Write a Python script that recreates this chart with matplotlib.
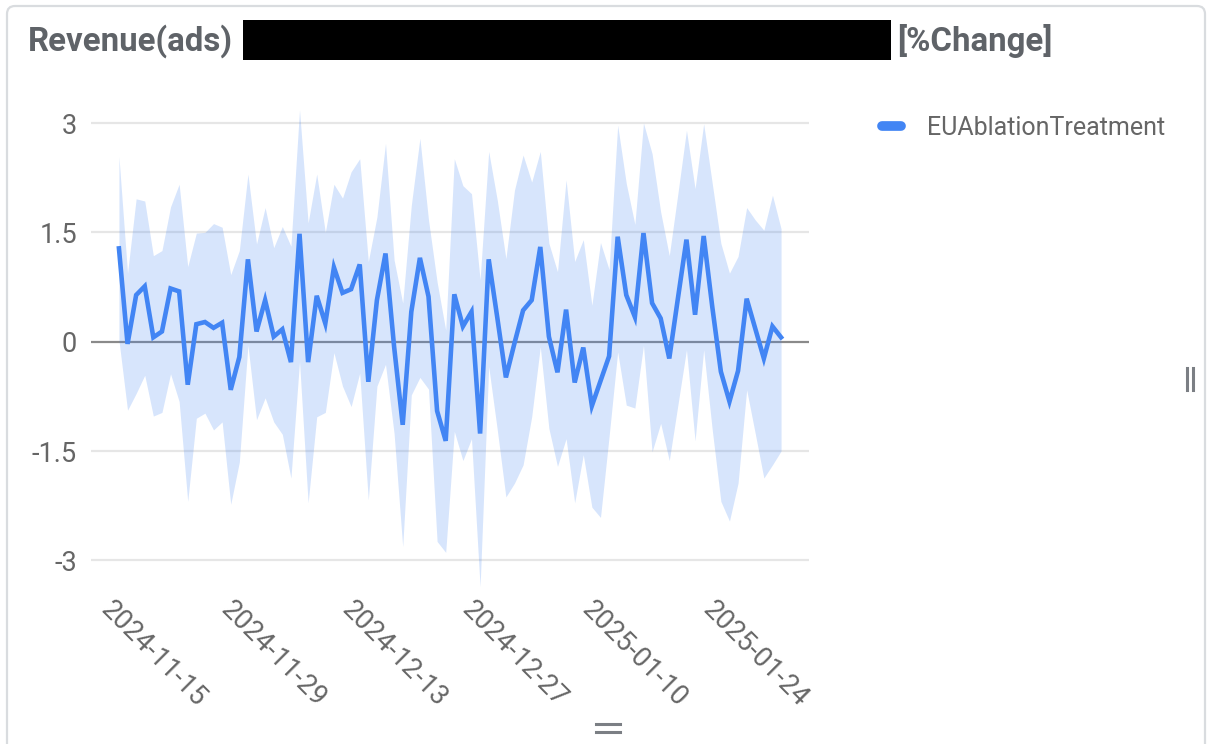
import matplotlib
matplotlib.use("Agg")
import matplotlib.pyplot as plt
import matplotlib.transforms as mtransforms
from matplotlib.lines import Line2D
from matplotlib.patches import FancyBboxPatch, Rectangle
import pandas as pd

# ---- data -------------------------------------------------------------
series_name = "EUAblationTreatment"
start_date = "2024-11-15"

mean_change = [
    1.28, -0.03, 0.64, 0.76, 0.06, 0.14, 0.73, 0.69, -0.59, 0.24,
    0.27, 0.19, 0.26, -0.66, -0.21, 1.13, 0.14, 0.57, 0.07, 0.17,
    -0.28, 1.48, -0.28, 0.63, 0.25, 1.02, 0.67, 0.72, 1.06, -0.55,
    0.57, 1.21, -0.07, -1.14, 0.41, 1.15, 0.62, -0.95, -1.36, 0.65,
    0.21, 0.41, -1.26, 1.13, 0.33, -0.49, -0.02, 0.43, 0.57, 1.30,
    0.07, -0.42, 0.44, -0.56, -0.08, -0.88, -0.54, -0.20, 1.44, 0.64,
    0.34, 1.49, 0.53, 0.32, -0.23, 0.59, 1.40, 0.37, 1.45, 0.48,
    -0.41, -0.82, -0.40, 0.59, 0.18, -0.23, 0.21, 0.06,
]
upper_bound = [
    2.54, 0.94, 1.96, 1.93, 1.18, 1.25, 1.85, 2.16, 1.03, 1.49,
    1.50, 1.62, 1.57, 0.92, 1.25, 2.30, 1.34, 1.84, 1.29, 1.58,
    1.31, 3.18, 1.63, 2.30, 1.50, 2.16, 1.97, 2.33, 2.51, 1.10,
    1.71, 2.72, 1.12, 0.53, 1.87, 2.79, 1.67, 0.82, 0.16, 2.51,
    2.14, 2.03, 0.85, 2.61, 1.94, 1.14, 2.08, 2.56, 2.19, 2.61,
    1.35, 0.96, 2.22, 1.10, 1.40, 0.50, 1.36, 0.99, 2.97, 2.17,
    1.61, 3.00, 2.58, 1.78, 1.18, 2.03, 2.90, 2.10, 2.99, 2.17,
    1.35, 0.94, 1.17, 1.84, 1.67, 1.53, 2.01, 1.55,
]
lower_bound = [
    0.02, -0.94, -0.71, -0.46, -1.02, -0.97, -0.44, -0.82, -2.19, -1.05,
    -0.98, -1.21, -1.10, -2.23, -1.65, -0.05, -1.07, -0.77, -1.10, -1.27,
    -1.87, -0.27, -2.21, -1.03, -0.97, -0.15, -0.61, -0.89, -0.43, -2.17,
    -0.61, -0.31, -1.26, -2.81, -0.73, -0.49, -0.65, -2.74, -2.89, -1.23,
    -1.63, -1.33, -3.36, -0.34, -1.21, -2.13, -1.94, -1.69, -1.03, -0.07,
    -1.19, -1.71, -1.33, -2.21, -1.55, -2.27, -2.41, -1.30, -0.14, -0.87,
    -0.91, -0.05, -1.51, -1.12, -1.63, -0.87, -0.11, -1.36, -0.11, -1.21,
    -2.19, -2.46, -1.94, -0.66, -1.26, -1.87, -1.69, -1.50,
]
dates = pd.date_range(start_date, periods=len(mean_change), freq="D")

x_tick_labels = ["2024-11-15", "2024-11-29", "2024-12-13",
                 "2024-12-27", "2025-01-10", "2025-01-24"]
y_ticks = [-3, -1.5, 0, 1.5, 3]
y_tick_labels = ["-3", "-1.5", "0", "1.5", "3"]

# ---- style ------------------------------------------------------------
plt.rcParams["font.family"] = ["Roboto", "DejaVu Sans"]
BLUE = "#4285f4"
TEXT = "#5f6368"
LABEL = "#666666"
GRID = "#e6e6e6"

W, H = 1207, 744
fig = plt.figure(figsize=(W / 100, H / 100), dpi=100)
fig.patch.set_facecolor("white")

# card outline
card = FancyBboxPatch((7 / 100, -0.2), (1205 - 7) / 100, (H - 6) / 100 + 0.2,
                      boxstyle="round,pad=0,rounding_size=0.08",
                      transform=fig.dpi_scale_trans, facecolor="none",
                      edgecolor="#d9dcdf", linewidth=1.6, zorder=0)
fig.patches.append(card)

# title with redacted block
title_y = 1 - 41 / H
fig.text(28 / W, title_y, "Revenue(ads)", fontsize=23.8, fontweight="bold",
         color=TEXT, va="center", ha="left")
fig.patches.append(Rectangle((243 / W, 1 - 60 / H), (891 - 243) / W, 40 / H,
                             transform=fig.transFigure, facecolor="black",
                             edgecolor="none", zorder=3))
fig.text(897 / W, title_y, "[%Change]", fontsize=23.8, fontweight="bold",
         color=TEXT, va="center", ha="left")

# ---- plot area --------------------------------------------------------
ymin, ymax = -3.4, 3.4
px_zero, px_per_unit = 341.7, 72.9
top_px = px_zero - ymax * px_per_unit
bot_px = px_zero - ymin * px_per_unit
left_px, right_px = 91, 809
ax = fig.add_axes([left_px / W, 1 - bot_px / H,
                   (right_px - left_px) / W, (bot_px - top_px) / H])
ax.set_facecolor("none")

for v in y_ticks:
    if v != 0:
        ax.axhline(v, color=GRID, lw=1.6, zorder=1)
ax.axhline(0, color="#8a8a8a", lw=1.6, zorder=1.5)

ax.fill_between(dates, lower_bound, upper_bound, color=BLUE, alpha=0.21,
                linewidth=0, zorder=2)
ax.plot(dates, mean_change, color=BLUE, lw=3.3, zorder=3,
        solid_joinstyle="miter")

pad_days = pd.Timedelta(days=3.25)
ax.set_xlim(dates[0] - pad_days, dates[-1] + pad_days)
ax.set_ylim(ymin, ymax)

for s in ax.spines.values():
    s.set_visible(False)

ax.set_yticks(y_ticks)
ax.set_yticklabels(y_tick_labels)
ax.tick_params(axis="y", length=0, pad=10, labelsize=19.5, labelcolor=LABEL)

tick_dates = pd.to_datetime(x_tick_labels)
ax.set_xticks(tick_dates)
ax.set_xticklabels(x_tick_labels)
ax.tick_params(axis="x", length=0, pad=5, labelsize=19.5, labelcolor=LABEL)
shift_left = mtransforms.ScaledTranslation(-4.5 / 100, 0, fig.dpi_scale_trans)
for lab in ax.get_xticklabels():
    lab.set_rotation(-45)
    lab.set_rotation_mode("anchor")
    lab.set_ha("left")
    lab.set_va("top")
    lab.set_transform(lab.get_transform() + shift_left)

# legend
handle = Line2D([], [], color=BLUE, lw=7, solid_capstyle="round")
fig.legend([handle], [series_name], loc="center left",
           bbox_to_anchor=(882 / W, 1 - 128 / H), frameon=False,
           fontsize=18, labelcolor=LABEL, handlelength=0.75,
           handletextpad=1.05, borderaxespad=0, borderpad=0)

# small control glyphs
for xp in (1187, 1193):
    fig.add_artist(Line2D([xp / W, xp / W], [1 - 368 / H, 1 - 390 / H],
                          color="#7b7f84", lw=2.2))
for yp in (724, 732):
    fig.add_artist(Line2D([596 / W, 620 / W], [1 - yp / H, 1 - yp / H],
                          color="#7b7f84", lw=2.2))

fig.savefig("out.png", dpi=100, facecolor="white")
